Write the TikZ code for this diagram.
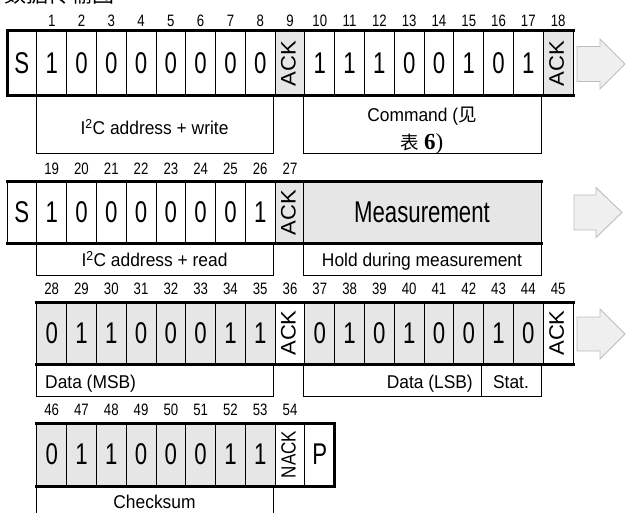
\documentclass[tikz,border=0pt]{standalone}
\usepackage{fontspec}
\setmainfont{Liberation Sans}
\newfontfamily\fbig[FakeStretch=0.74]{Liberation Sans}
\newfontfamily\flab[FakeStretch=0.94]{Liberation Sans}
\newfontfamily\fnum[FakeStretch=0.8]{Liberation Sans}
\newfontfamily\fack[FakeStretch=1.05]{Liberation Sans}
\newfontfamily\fnack[FakeStretch=0.83]{Liberation Sans}
\newfontfamily\fcjk{Noto Sans CJK SC}
\newfontfamily\fserif{Liberation Serif}
\definecolor{cellgray}{HTML}{E6E6E6}
\definecolor{arrfill}{HTML}{EFEFEF}
\definecolor{arrdraw}{HTML}{BDBDBD}
\begin{document}
\begin{tikzpicture}[x=1pt,y=-1pt,
  cell/.style={draw=black, line width=0.9pt, minimum width=29.79pt, inner sep=0pt, outer sep=0pt, font=\fbig\fontsize{30}{30}\selectfont},
  gcell/.style={cell, fill=cellgray},
  num/.style={inner sep=0pt, font=\fnum\fontsize{16.5}{16.5}\selectfont},
  acktxt/.style={inner sep=0pt, rotate=90, font=\fack\fontsize{21}{21}\selectfont},
  nacktxt/.style={inner sep=0pt, rotate=90, font=\fnack\fontsize{20.5}{20.5}\selectfont},
  labbox/.style={draw=black, line width=0.9pt, inner sep=0pt, outer sep=0pt},
  labtxt/.style={inner sep=0pt, font=\flab\fontsize{18.5}{18.5}\selectfont},
  thickline/.style={draw=black, line width=3pt, line cap=rect, line join=miter},
  grayarrow/.style={draw=arrdraw, fill=arrfill, line width=0.9pt, line join=miter}
]
\useasboundingbox (0,0) rectangle (626,513);
% cut-off heading (only its lowest strokes lie inside the page)
\node[anchor=south west, inner sep=0pt, font=\fcjk\fontsize{22}{22}\selectfont] (head) at (4,4.5) {数据传输图};

% ---------------- Row 1
\node[cell, minimum height=65pt] (a0) at (21.9,63.5) {S};
\foreach \b [count=\k] in {1,0,0,0,0,0,0,0}
  \node[cell, minimum height=65pt] (a\k) at ({21.9+29.79*\k},63.5) {\b};
\node[gcell, minimum height=65pt] (a9) at ({21.9+29.79*9},63.5) {};
\node[acktxt] (acka9) at ([xshift=-1.5pt]a9.center) {ACK};
\foreach \b [count=\k from 10] in {1,1,1,0,0,1,0,1}
  \node[cell, minimum height=65pt] (a\k) at ({21.9+29.79*\k},63.5) {\b};
\node[gcell, minimum height=65pt] (a18) at ({21.9+29.79*18},63.5) {};
\node[acktxt] (acka18) at ([xshift=-1.5pt]a18.center) {ACK};
\foreach \k in {1,...,18}
  \node[num] (na\k) at ({21.9+29.79*\k},21) {\k};
\draw[thickline] (a18.north east) -- (a0.north west) -- (a0.south west) -- (a18.south east);

\node[labbox, minimum width=237pt, minimum height=57pt] (la1) at (154.5,124.5) {};
\node[labtxt, anchor=base] (lta1) at (154.5,135) {I\textsuperscript{2}C address + write};
\node[labbox, minimum width=238pt, minimum height=57pt] (la2) at (422,124.5) {};
\node[labtxt, anchor=base] (lta2) at (422,121.5) {Command ({\fcjk 见}};
\node[labtxt, anchor=base] (lta3) at (422,150) {{\fcjk 表} {\fserif\bfseries\fontsize{23}{23}\selectfont 6}{\fserif\fontsize{23}{23}\selectfont )}};

\draw[grayarrow] (577,46.5) -- (600,46.5) -- (600,39) -- (625,64) -- (600,89) -- (600,81.5) -- (577,81.5) -- cycle;

% ---------------- Row 2
\node[cell, minimum height=61pt] (b0) at (21.9,212.5) {S};
\foreach \b [count=\k] in {1,0,0,0,0,0,0,1}
  \node[cell, minimum height=61pt] (b\k) at ({21.9+29.79*\k},212.5) {\b};
\node[gcell, minimum height=61pt] (b9) at ({21.9+29.79*9},212.5) {};
\node[acktxt] (ackb9) at ([xshift=-1.5pt]b9.center) {ACK};
\node[gcell, minimum width=238pt, minimum height=61pt] (meas) at (422,212.5) {Measurement};
\foreach \k in {1,...,9}{
  \pgfmathtruncatemacro\n{\k+18}
  \node[num] (nb\k) at ({21.9+29.79*\k},169) {\n};}
\draw[thickline] (b0.north west) -- (meas.north east);
\draw[thickline] (b0.south west) -- (meas.south east);

\node[labbox, minimum width=237pt, minimum height=32pt] (lb1) at (154.5,259) {};
\node[labtxt, anchor=base] (ltb1) at (154.5,266.5) {I\textsuperscript{2}C address + read};
\node[labbox, minimum width=238pt, minimum height=32pt] (lb2) at (422,259) {};
\node[labtxt, anchor=base] (ltb2) at (422,266.5) {Hold during measurement};

\draw[grayarrow] (574,195) -- (596,195) -- (596,187.5) -- (622,212.5) -- (596,237.5) -- (596,230) -- (574,230) -- cycle;

% ---------------- Row 3
\foreach \b [count=\k] in {0,1,1,0,0,0,1,1}
  \node[gcell, minimum height=62pt] (c\k) at ({21.9+29.79*\k},333) {\b};
\node[cell, minimum height=62pt] (c9) at ({21.9+29.79*9},333) {};
\node[acktxt] (ackc9) at ([xshift=-1.5pt]c9.center) {ACK};
\foreach \b [count=\k from 10] in {0,1,0,1,0,0,1,0}
  \node[gcell, minimum height=62pt] (c\k) at ({21.9+29.79*\k},333) {\b};
\node[cell, minimum height=62pt] (c18) at ({21.9+29.79*18},333) {};
\node[acktxt] (ackc18) at ([xshift=-1.5pt]c18.center) {ACK};
\foreach \k in {1,...,18}{
  \pgfmathtruncatemacro\n{\k+27}
  \node[num] (nc\k) at ({21.9+29.79*\k},288.5) {\n};}
\draw[thickline] (c1.north west) -- (c18.north east);
\draw[thickline] (c1.south west) -- (c18.south east);

\node[labbox, minimum width=237pt, minimum height=32pt] (lc1) at (154.5,380) {};
\node[labtxt, anchor=base west] (ltc1) at (45,388) {Data (MSB)};
\node[labbox, minimum width=178pt, minimum height=32pt] (lc2) at (392,380) {};
\node[labtxt, anchor=base east] (ltc2) at (473,388) {Data (LSB)};
\node[labbox, minimum width=60pt, minimum height=32pt] (lc3) at (511,380) {};
\node[labtxt, anchor=base] (ltc3) at (511,388) {Stat.};

\draw[grayarrow] (577,317) -- (600,317) -- (600,309) -- (625,334) -- (600,359) -- (600,351) -- (577,351) -- cycle;

% ---------------- Row 4
\foreach \b [count=\k] in {0,1,1,0,0,0,1,1}
  \node[gcell, minimum height=63pt] (d\k) at ({21.9+29.79*\k},454.5) {\b};
\node[cell, minimum height=63pt] (d9) at ({21.9+29.79*9},454.5) {};
\node[nacktxt] (nackd9) at ([xshift=-1.5pt]d9.center) {NACK};
\node[cell, minimum height=63pt] (d10) at ({21.9+29.79*10},454.5) {P};
\foreach \k in {1,...,9}{
  \pgfmathtruncatemacro\n{\k+45}
  \node[num] (nd\k) at ({21.9+29.79*\k},409.5) {\n};}
\draw[thickline] (d1.north west) -- (d10.north east) -- (d10.south east) -- (d1.south west);

\node[labbox, minimum width=237pt, minimum height=40pt] (ld1) at (154.5,506) {};
\node[labtxt, anchor=base] (ltd1) at (154.5,508) {Checksum};
\end{tikzpicture}
\end{document}
